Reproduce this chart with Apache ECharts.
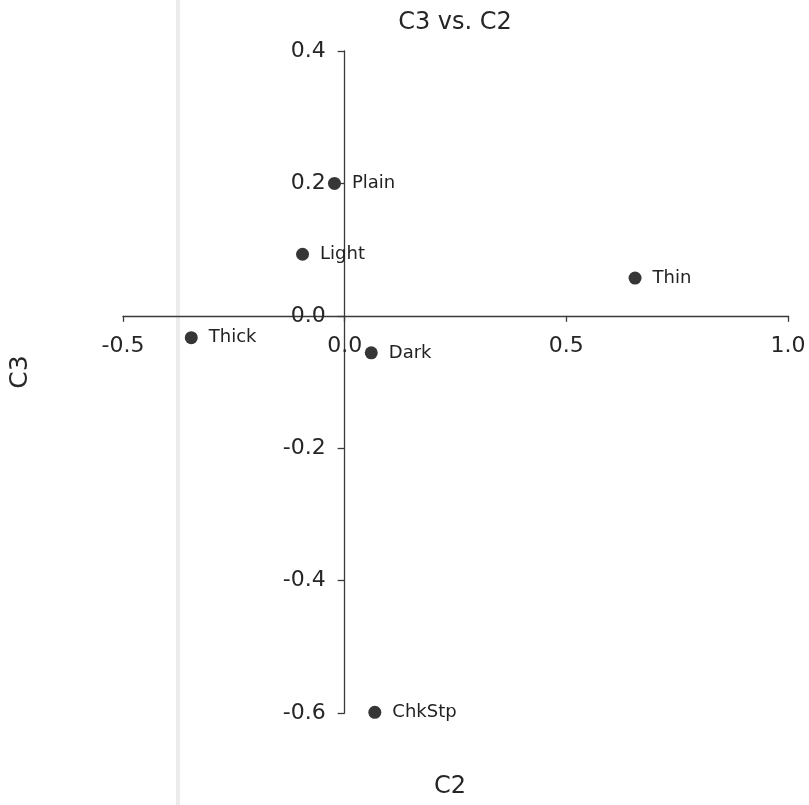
<!DOCTYPE html>
<html>
<head>
<meta charset="utf-8">
<script src="https://cdn.jsdelivr.net/npm/echarts@6/dist/echarts.min.js"></script>
<style>
  html, body { margin: 0; padding: 0; background: #fff; }
  #chart { width: 809px; height: 805px; }
</style>
</head>
<body>
<div id="chart"></div>
<script>
// Category labels and their coordinates on components C2 (x) and C3 (y)
const names = ['Plain', 'Light', 'Thin', 'Thick', 'Dark', 'ChkStp'];
const c2Values = [-0.023, -0.095, 0.655, -0.346, 0.060, 0.068];
const c3Values = [0.200, 0.093, 0.057, -0.033, -0.056, -0.599];

const xTicks = [-0.5, 0.0, 0.5, 1.0];
const yTicks = [0.4, 0.2, 0.0, -0.2, -0.4, -0.6];

const FONT = '"DejaVu Sans", "Liberation Sans", Arial, sans-serif';
const INK = '#262626';
const AXIS = '#3a3a3a';

const points = names.map((n, i) => ({ value: [c2Values[i], c3Values[i]], name: n }));

const chart = echarts.init(document.getElementById('chart'), null, { renderer: 'canvas' });

function buildOption(xOffset, yOffset) {
  return {
    backgroundColor: '#fff',
    animation: false,
    title: {
      text: 'C3 vs. C2',
      left: 450,
      top: 6,
      textAlign: 'center',
      textStyle: { fontFamily: FONT, fontSize: 24, fontWeight: 'normal', color: INK }
    },
    grid: { left: 123, right: 21, top: 51, bottom: 92, containLabel: false },
    xAxis: {
      type: 'value',
      position: 'bottom',
      offset: xOffset,
      min: -0.5,
      max: 1.0,
      interval: 0.5,
      axisLine: { onZero: false, lineStyle: { color: AXIS, width: 1.3 } },
      axisTick: { show: true, customValues: xTicks, length: 6, inside: false, lineStyle: { color: AXIS, width: 1.3 } },
      axisLabel: {
        customValues: xTicks,
        margin: 19,
        fontFamily: FONT, fontSize: 22, color: INK,
        formatter: v => v.toFixed(1)
      },
      splitLine: { show: false }
    },
    yAxis: {
      type: 'value',
      position: 'left',
      offset: yOffset,
      min: -0.6,
      max: 0.4,
      interval: 0.2,
      axisLine: { onZero: false, lineStyle: { color: AXIS, width: 1.3 } },
      axisTick: { show: true, customValues: yTicks, length: 7, inside: false, lineStyle: { color: AXIS, width: 1.3 } },
      axisLabel: {
        customValues: yTicks,
        margin: 19,
        fontFamily: FONT, fontSize: 22, color: INK,
        formatter: v => v.toFixed(1)
      },
      splitLine: { show: false }
    },
    graphic: [
      {
        type: 'rect',
        z: -1,
        shape: { x: 176, y: 0, width: 4, height: 805 },
        style: { fill: '#ececec' }
      },
      {
        type: 'text',
        x: 20, y: 372,
        rotation: Math.PI / 2,
        style: { text: 'C3', fontFamily: FONT, fontSize: 25, fill: INK, textAlign: 'center', textVerticalAlign: 'middle' }
      },
      {
        type: 'text',
        x: 450, y: 787,
        style: { text: 'C2', fontFamily: FONT, fontSize: 24, fill: INK, textAlign: 'center', textVerticalAlign: 'middle' }
      }
    ],
    series: [{
      type: 'scatter',
      data: points,
      symbol: 'circle',
      symbolSize: 13,
      itemStyle: { color: '#363636', opacity: 1 },
      label: {
        show: true,
        position: 'right',
        distance: 11,
        formatter: p => p.name,
        fontFamily: FONT, fontSize: 18, color: '#222222', opacity: 1
      },
      emphasis: { disabled: true }
    }]
  };
}

// First pass lays out the grid; then both axes are shifted so they cross at the origin.
chart.setOption(buildOption(0, 0));
const zero = chart.convertToPixel({ gridIndex: 0 }, [0, 0]);
const corner = chart.convertToPixel({ gridIndex: 0 }, [-0.5, -0.6]);
chart.setOption(buildOption(-(corner[1] - zero[1]), -(zero[0] - corner[0])));
</script>
</body>
</html>
